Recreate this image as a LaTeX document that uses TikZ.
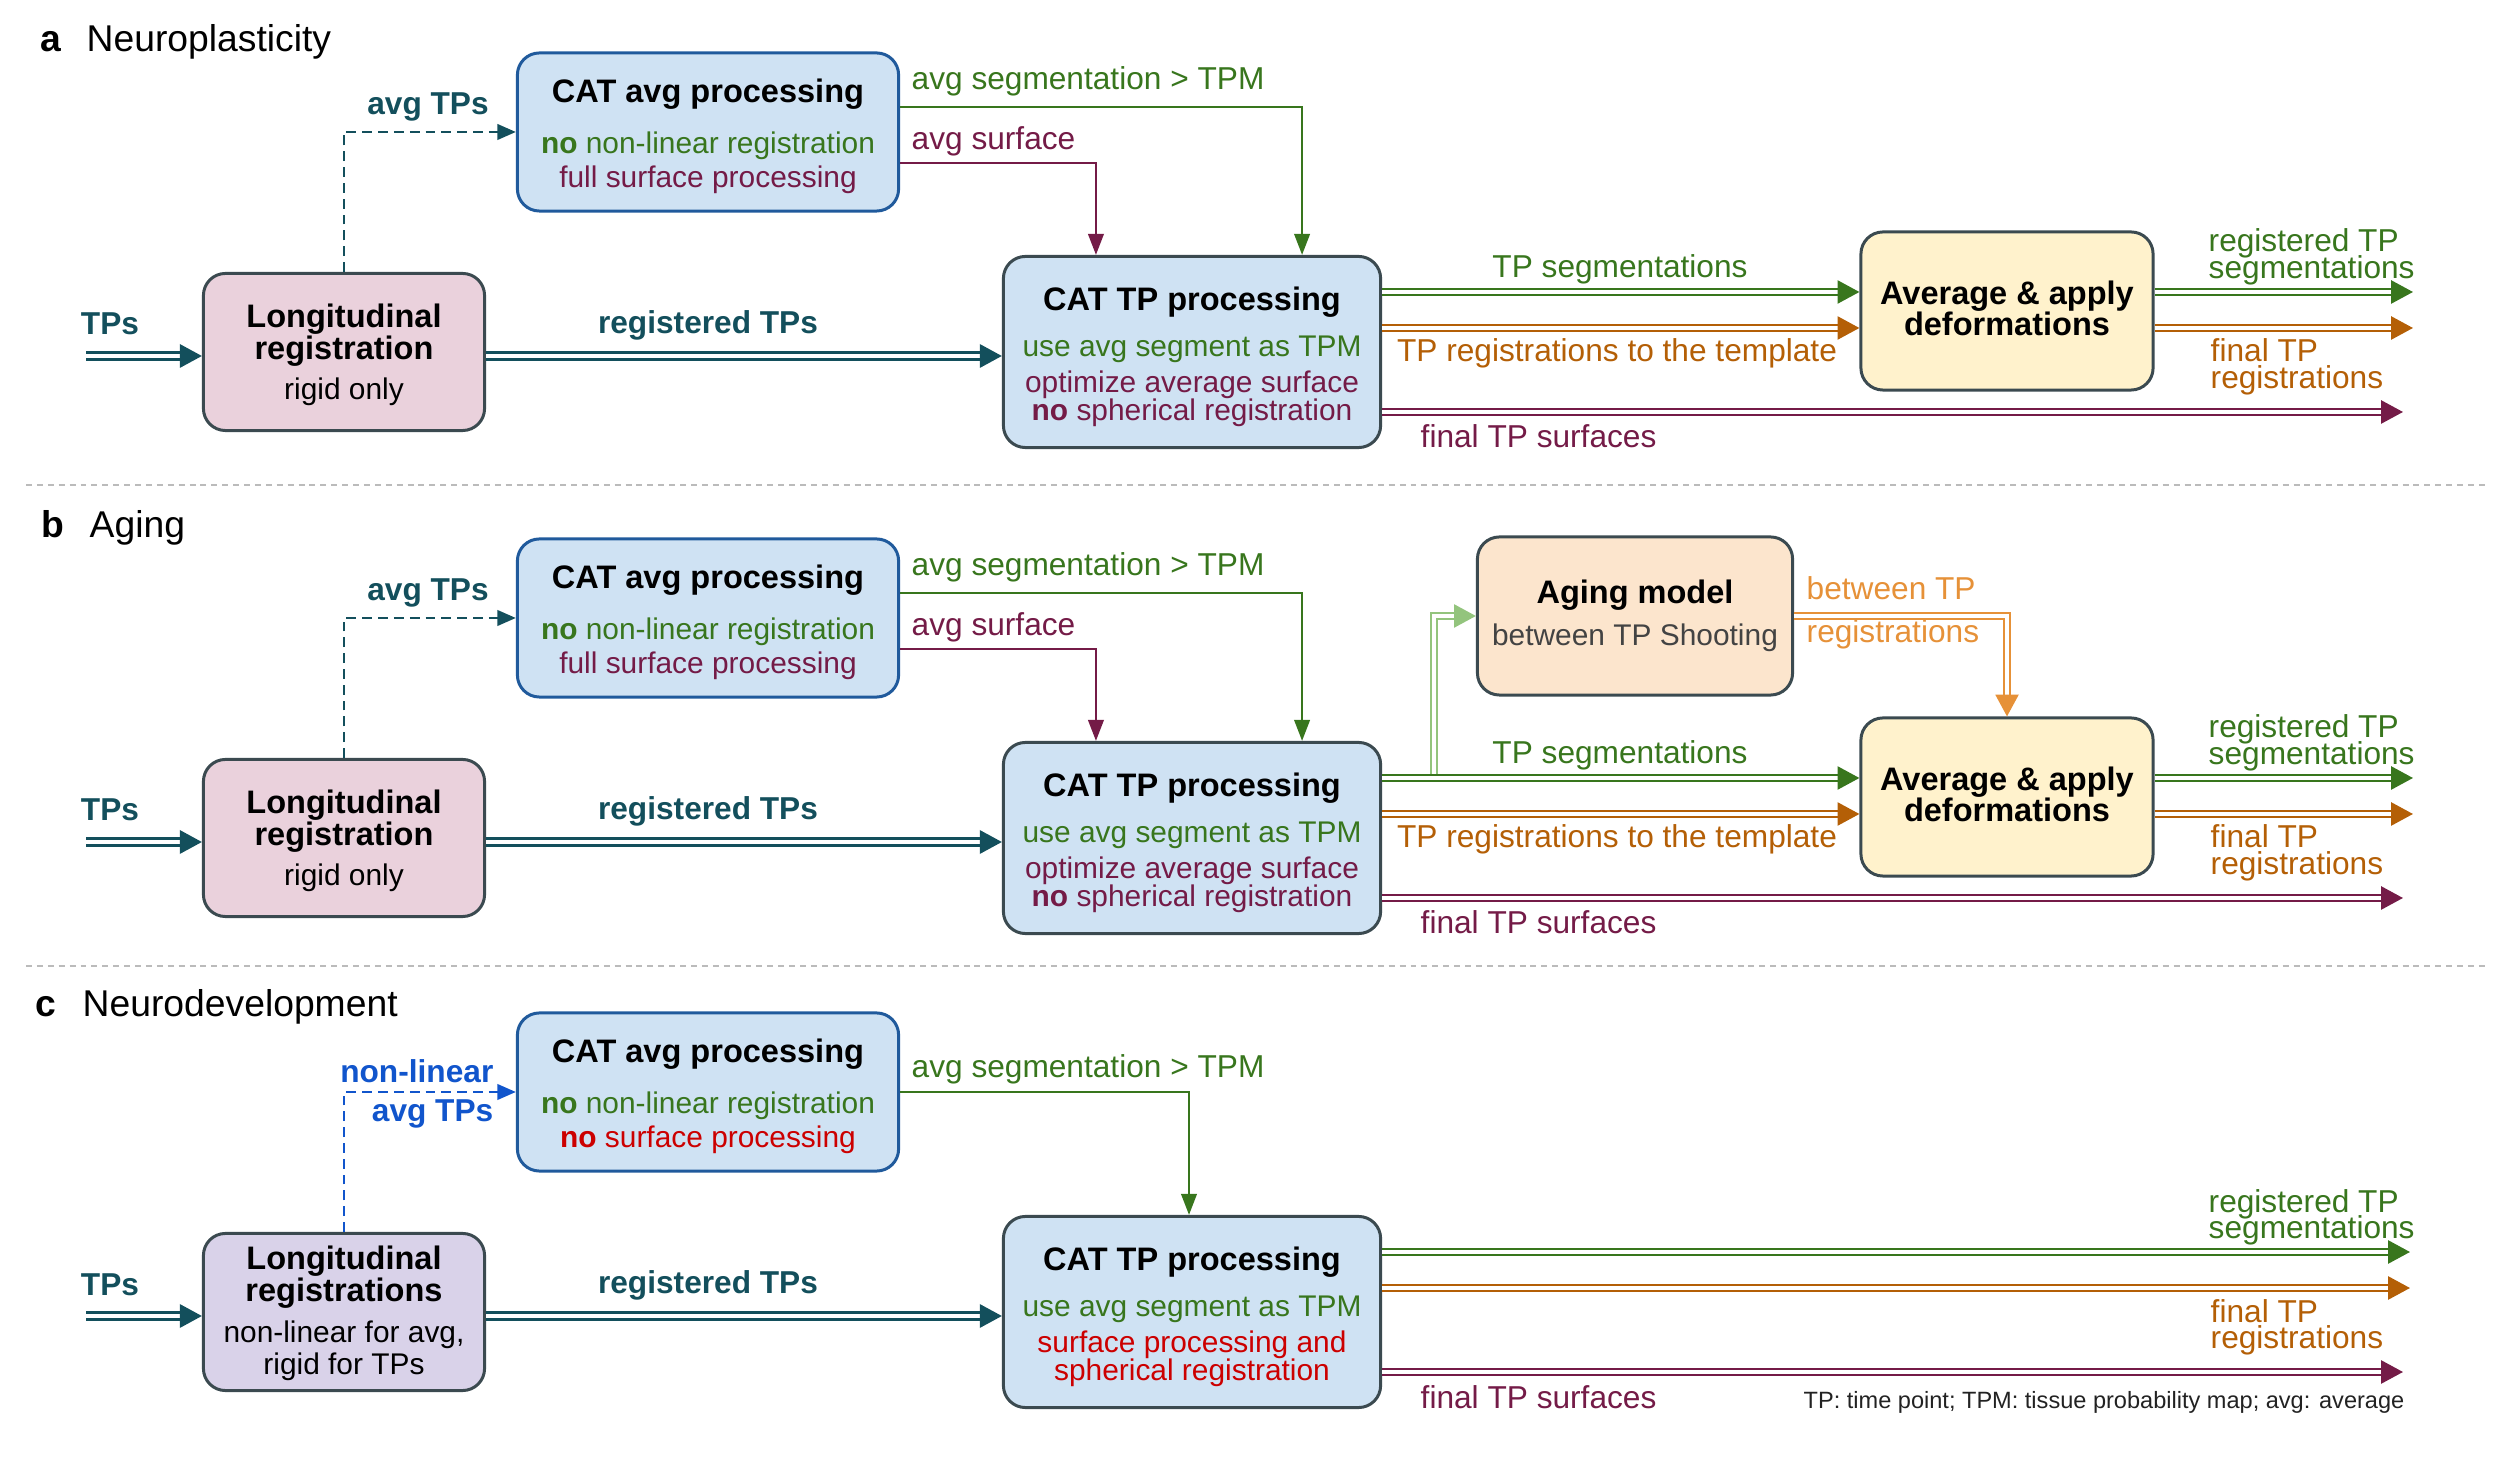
\documentclass[tikz,border=0pt]{standalone}
\usepackage{fontspec}
\setmainfont{Liberation Sans}
\usetikzlibrary{arrows.meta,calc}
\definecolor{cTeal}{HTML}{134F5C}
\definecolor{cGreen}{HTML}{38761D}
\definecolor{cMaroon}{HTML}{741B47}
\definecolor{cOrange}{HTML}{B45F06}
\definecolor{cLOrange}{HTML}{E69138}
\definecolor{cLGreen}{HTML}{93C47D}
\definecolor{cBlue}{HTML}{1155CC}
\definecolor{cRed}{HTML}{CC0000}
\definecolor{cFill}{HTML}{CFE2F3}
\definecolor{cPink}{HTML}{EAD1DC}
\definecolor{cYellow}{HTML}{FFF2CC}
\definecolor{cPeach}{HTML}{FCE5CD}
\definecolor{cLav}{HTML}{D9D2E9}
\definecolor{cBorder}{HTML}{3B4A50}
\definecolor{cBlueB}{HTML}{205A9C}
\definecolor{cGray}{HTML}{434343}
\definecolor{cNote}{HTML}{222222}
\definecolor{cSep}{HTML}{BBBBBB}
\newcommand\fTitle{\fontsize{9.25pt}{8pt}\selectfont\bfseries\lineskiplimit=-100pt\relax}
\newcommand\fBody{\fontsize{8.5pt}{8pt}\selectfont\mdseries\lineskiplimit=-100pt\relax}
\newcommand\fLab{\fontsize{9pt}{9pt}\selectfont}
\newcommand\fPanel{\fontsize{10.6pt}{11pt}\selectfont}
\newcommand\fNote{\fontsize{6.7pt}{7pt}\selectfont}
\newcommand\Tl[1]{{\fTitle #1}}
\newcommand\Bl[2]{{\fBody\color{#1}#2}}
\newcommand\up[1]{\rule{0pt}{#1}}
\newcommand\twol[2]{\vtop{\baselineskip=7.6pt\lineskiplimit=-100pt\hbox{#1}\hbox{#2}}}
\begin{document}
\begin{tikzpicture}[x=0.01cm,y=-0.01cm,
  bx/.style={draw=cBorder, line width=0.85pt, rounded corners=0.22cm, align=center, inner sep=0pt, font=\fBody},
  cavgbox/.style={bx, draw=cBlueB, fill=cFill, minimum width=3.81cm, minimum height=1.58cm},
  ctpbox/.style={bx, fill=cFill, minimum width=3.77cm, minimum height=1.91cm},
  lregbox/.style={bx, fill=cPink, minimum width=2.81cm, minimum height=1.57cm},
  avgbox/.style={bx, fill=cYellow, minimum width=2.92cm, minimum height=1.58cm},
  agebox/.style={bx, fill=cPeach, minimum width=3.15cm, minimum height=1.58cm},
  dbl/.style={line width=0.75pt, double=white, double distance=0.9pt, -{Triangle[length=6.2pt,width=6.5pt]}},
  tdbl/.style={line width=0.85pt, double=white, double distance=0.95pt, -{Triangle[length=6.3pt,width=6.6pt]}},
  tarrow/.style={line width=0.75pt, -{Triangle[length=6pt,width=4.4pt]}},
  dsh/.style={line width=0.8pt, dash pattern=on 2.8pt off 1.7pt, -{Triangle[length=5.3pt,width=4.4pt]}},
  lab/.style={inner sep=0pt, font=\fLab},
  blab/.style={inner sep=0pt, font=\fLab\bfseries},
  plab/.style={inner sep=0pt, anchor=base west, font=\fPanel},
  sepline/.style={draw=cSep, line width=0.5pt, dash pattern=on 1.7pt off 1.4pt},
]
\useasboundingbox (0,0) rectangle (2500,1480);

% ================= Panel a =================
\node[plab, font=\fPanel\bfseries] (pa) at (40,52) {a};
\node[plab] (pat) at (86,52) {Neuroplasticity};

\node[lregbox] (lrega) at (344,352) {\Tl{\up{8.3pt}Longitudinal}\\[1.1pt]\Tl{registration}\\[3.4pt]\Bl{black}{rigid only}};
\node[cavgbox] (cavga) at (708,132) {\Tl{\up{9.4pt}CAT avg processing}\\[6.5pt]\Bl{cGreen}{\textbf{no} non-linear registration}\\[1.7pt]\Bl{cMaroon}{full surface processing}};
\node[ctpbox] (ctpa) at (1192,352) {\Tl{\up{9.6pt}CAT TP processing}\\[5.1pt]\Bl{cGreen}{use avg segment as TPM}\\[2.2pt]\Bl{cMaroon}{optimize average surface}\\\Bl{cMaroon}{\textbf{no} spherical registration}};
\node[avgbox] (avga) at (2007,311) {\Tl{Average \& apply}\\[0.8pt]\Tl{deformations\rule[-1.7pt]{0pt}{1.7pt}}};

\coordinate (ina) at (86,356);
\draw[tdbl, cTeal] (ina) -- (lrega.west |- ina);
\node[blab, text=cTeal, anchor=base] (tpsa) at (110,335) {TPs};
\draw[tdbl, cTeal] (lrega.east |- ina) -- (ctpa.west |- ina);
\node[blab, text=cTeal, anchor=base] (rtpa) at (708,334) {registered TPs};
\draw[dsh, cTeal] (lrega.north) |- (cavga.west);
\node[blab, text=cTeal, anchor=base] (atpa) at (428,115) {avg TPs};
\draw[tarrow, cGreen] (cavga.east |- 0,107) -| ([xshift=1.1cm]ctpa.north);
\node[lab, text=cGreen, anchor=base west] (asga) at (911,90) {avg segmentation > TPM};
\draw[tarrow, cMaroon] (cavga.east |- 0,163) -| ([xshift=-0.96cm]ctpa.north);
\node[lab, text=cMaroon, anchor=base west] (asfa) at (911,150) {avg surface};
\draw[dbl, cGreen] (ctpa.east |- 0,292) -- (avga.west |- 0,292);
\node[lab, text=cGreen, anchor=base] (tpsega) at (1620,278) {TP segmentations};
\draw[dbl, cOrange] (ctpa.east |- 0,328) -- (avga.west |- 0,328);
\node[lab, text=cOrange, anchor=base] (tprega) at (1617,362) {TP registrations to the template};
\coordinate (fsa) at (2403,412);
\draw[dbl, cMaroon] (ctpa.east |- fsa) -- (fsa);
\node[lab, text=cMaroon, anchor=base west] (fsla) at (1420,448) {final TP surfaces};
\coordinate (oga) at (2413,292);
\draw[dbl, cGreen] (avga.east |- oga) -- (oga);
\coordinate (ooa) at (2413,328);
\draw[dbl, cOrange] (avga.east |- ooa) -- (ooa);
\node[lab, text=cGreen, anchor=base west] (rsa) at (2208,252) {\twol{registered TP}{segmentations}};
\node[lab, text=cOrange, anchor=base west] (fra) at (2210,362) {\twol{final TP}{registrations}};

\draw[sepline] (26,485) -- (2487,485);

% ================= Panel b =================
\node[plab, font=\fPanel\bfseries] (pb) at (41,538) {b};
\node[plab] (pbt) at (89,538) {Aging};

\node[lregbox] (lregb) at (344,838) {\Tl{\up{8.3pt}Longitudinal}\\[1.1pt]\Tl{registration}\\[3.4pt]\Bl{black}{rigid only}};
\node[cavgbox] (cavgb) at (708,618) {\Tl{\up{9.4pt}CAT avg processing}\\[6.5pt]\Bl{cGreen}{\textbf{no} non-linear registration}\\[1.7pt]\Bl{cMaroon}{full surface processing}};
\node[ctpbox] (ctpb) at (1192,838) {\Tl{\up{9.6pt}CAT TP processing}\\[5.1pt]\Bl{cGreen}{use avg segment as TPM}\\[2.2pt]\Bl{cMaroon}{optimize average surface}\\\Bl{cMaroon}{\textbf{no} spherical registration}};
\node[avgbox] (avgb) at (2007,797) {\Tl{Average \& apply}\\[0.8pt]\Tl{deformations\rule[-1.7pt]{0pt}{1.7pt}}};
\node[agebox] (aging) at (1635,616) {\Tl{Aging model}\\[4pt]\Bl{cGray}{between TP Shooting}};

\coordinate (inb) at (86,842);
\draw[tdbl, cTeal] (inb) -- (lregb.west |- inb);
\node[blab, text=cTeal, anchor=base] (tpsb) at (110,821) {TPs};
\draw[tdbl, cTeal] (lregb.east |- inb) -- (ctpb.west |- inb);
\node[blab, text=cTeal, anchor=base] (rtpb) at (708,820) {registered TPs};
\draw[dsh, cTeal] (lregb.north) |- (cavgb.west);
\node[blab, text=cTeal, anchor=base] (atpb) at (428,601) {avg TPs};
\draw[tarrow, cGreen] (cavgb.east |- 0,593) -| ([xshift=1.1cm]ctpb.north);
\node[lab, text=cGreen, anchor=base west] (asgb) at (911,576) {avg segmentation > TPM};
\draw[tarrow, cMaroon] (cavgb.east |- 0,649) -| ([xshift=-0.96cm]ctpb.north);
\node[lab, text=cMaroon, anchor=base west] (asfb) at (911,636) {avg surface};
\coordinate (lgb) at (1434,778);
\draw[dbl, cLGreen] (lgb) |- (aging.west);
\draw[dbl, cGreen] (ctpb.east |- 0,778) -- (avgb.west |- 0,778);
\node[lab, text=cGreen, anchor=base] (tpsegb) at (1620,764) {TP segmentations};
\draw[dbl, cOrange] (ctpb.east |- 0,814) -- (avgb.west |- 0,814);
\node[lab, text=cOrange, anchor=base] (tpregb) at (1617,848) {TP registrations to the template};
\draw[dbl, cLOrange] (aging.east) -| (avgb.north);
\node[lab, text=cLOrange, anchor=base west] (btb) at (1806,600) {between TP};
\node[lab, text=cLOrange, anchor=base west] (brb) at (1806,643) {registrations};
\coordinate (fsb) at (2403,898);
\draw[dbl, cMaroon] (ctpb.east |- fsb) -- (fsb);
\node[lab, text=cMaroon, anchor=base west] (fslb) at (1420,934) {final TP surfaces};
\coordinate (ogb) at (2413,778);
\draw[dbl, cGreen] (avgb.east |- ogb) -- (ogb);
\coordinate (oob) at (2413,814);
\draw[dbl, cOrange] (avgb.east |- oob) -- (oob);
\node[lab, text=cGreen, anchor=base west] (rsb) at (2208,738) {\twol{registered TP}{segmentations}};
\node[lab, text=cOrange, anchor=base west] (frb) at (2210,848) {\twol{final TP}{registrations}};

\draw[sepline] (26,966) -- (2487,966);

% ================= Panel c =================
\node[plab, font=\fPanel\bfseries] (pc) at (35,1017) {c};
\node[plab] (pct) at (82,1017) {Neurodevelopment};

\node[lregbox, fill=cLav] (lregc) at (344,1312) {\Tl{\up{7.4pt}Longitudinal}\\[1.0pt]\Tl{registrations}\\[3.7pt]\Bl{black}{non-linear for avg,}\\[1.0pt]\Bl{black}{rigid for TPs}};
\node[cavgbox] (cavgc) at (708,1092) {\Tl{\up{9.4pt}CAT avg processing}\\[6.5pt]\Bl{cGreen}{\textbf{no} non-linear registration}\\[1.7pt]\Bl{cRed}{\textbf{no} surface processing}};
\node[ctpbox] (ctpc) at (1192,1312) {\Tl{\up{9.6pt}CAT TP processing}\\[5.1pt]\Bl{cGreen}{use avg segment as TPM}\\[2.2pt]\Bl{cRed}{surface processing and}\\\Bl{cRed}{spherical registration}};

\coordinate (inc) at (86,1316);
\draw[tdbl, cTeal] (inc) -- (lregc.west |- inc);
\node[blab, text=cTeal, anchor=base] (tpsc) at (110,1295) {TPs};
\draw[tdbl, cTeal] (lregc.east |- inc) -- (ctpc.west |- inc);
\node[blab, text=cTeal, anchor=base] (rtpc) at (708,1294) {registered TPs};
\draw[dsh, cBlue] (lregc.north) |- (cavgc.west);
\node[blab, text=cBlue, anchor=base east] (nlc) at (494,1083) {non-linear};
\node[blab, text=cBlue, anchor=base east] (atpc) at (494,1122) {avg TPs};
\draw[tarrow, cGreen] (cavgc.east) -| ([xshift=-0.03cm]ctpc.north);
\node[lab, text=cGreen, anchor=base west] (asgc) at (911,1078) {avg segmentation > TPM};
\coordinate (ogc) at (2410,1252);
\draw[dbl, cGreen] (ctpc.east |- ogc) -- (ogc);
\coordinate (ooc) at (2410,1288);
\draw[dbl, cOrange] (ctpc.east |- ooc) -- (ooc);
\coordinate (fsc) at (2403,1372);
\draw[dbl, cMaroon] (ctpc.east |- fsc) -- (fsc);
\node[lab, text=cGreen, anchor=base west] (rsc) at (2208,1212) {\twol{registered TP}{segmentations}};
\node[lab, text=cOrange, anchor=base west] (frc) at (2210,1322) {\twol{final TP}{registrations}};
\node[lab, text=cMaroon, anchor=base west] (fslc) at (1420,1408) {final TP surfaces};
\node[inner sep=0pt, anchor=base east, font=\fNote, text=cNote] (note) at (2405,1408) {TP: time point; TPM: tissue probability map; avg: average};
\end{tikzpicture}
\end{document}
